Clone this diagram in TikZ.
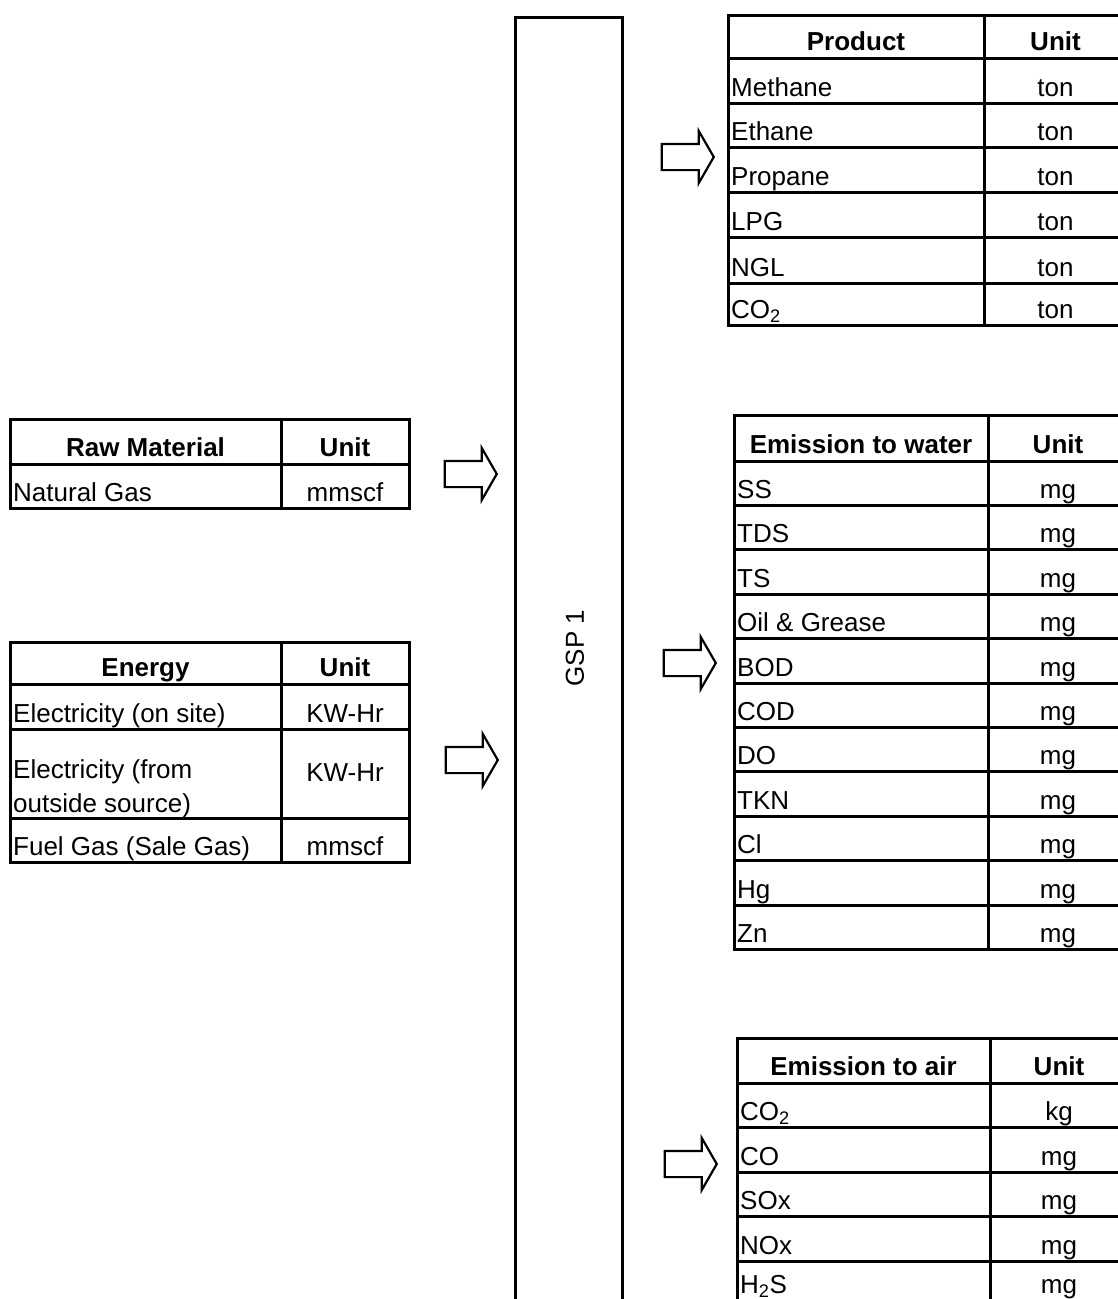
\documentclass[tikz,border=0pt]{standalone}
\usepackage{fontspec}
\setmainfont{Liberation Sans}
\usetikzlibrary{shapes.arrows}
\begin{document}
\begin{tikzpicture}[x=1pt,y=-1pt,
  grid/.style={line width=3pt, line cap=rect},
  tx/.style={font=\fontsize{26}{34}\selectfont, inner sep=0pt, anchor=base west},
  ux/.style={font=\fontsize{26}{34}\selectfont, inner sep=0pt, anchor=base},
  hx/.style={font=\fontsize{26}{34}\selectfont\bfseries, inner sep=0pt, anchor=base},
  flow/.style={single arrow, draw, line width=2.2pt, fill=white, inner xsep=0pt, inner ysep=12pt,
    minimum height=52pt, single arrow head extend=13pt,
    single arrow tip angle=120}]
\useasboundingbox[fill=white] (0,0) rectangle (1118,1299);

% ---------- GSP column ----------
\draw[grid] (515,1320) -- (515,17) -- (622,17) -- (622,1320);
\node[font=\fontsize{26}{34}\selectfont, rotate=90, inner sep=0pt] (gsp) at (575,648) {GSP 1};

% ---------- Raw material ----------
\draw[grid] (10,419) rectangle (409,508);
\draw[grid] (10,464) -- (409,464);
\draw[grid] (281,419) -- (281,508);
\node[hx] (rawh) at (145.5,456) {Raw Material};
\node[hx] (rawu) at (345,456) {Unit};
\node[tx] (raw1) at (13,501) {Natural Gas};
\node[ux] (raw1u) at (345,501) {mmscf};

% ---------- Energy ----------
\draw[grid] (10,642) rectangle (409,862);
\foreach \yy in {684,729,818} \draw[grid] (10,\yy) -- (409,\yy);
\draw[grid] (281,642) -- (281,862);
\node[hx] (eneh) at (145.5,676) {Energy};
\node[hx] (eneu) at (345,676) {Unit};
\node[tx] (ene1) at (13,722) {Electricity (on site)};
\node[ux] (ene1u) at (345,722) {KW-Hr};
\node[tx] (ene2a) at (13,778) {Electricity (from};
\node[tx] (ene2b) at (13,812) {outside source)};
\node[ux] (ene2u) at (345,781) {KW-Hr};
\node[tx] (ene3) at (13,855) {Fuel Gas (Sale Gas)};
\node[ux] (ene3u) at (345,855) {mmscf};

% ---------- Product ----------
\draw[grid] (728,15) rectangle (1130,325);
\foreach \yy in {58,103,147,192,237,283} \draw[grid] (728,\yy) -- (1130,\yy);
\draw[grid] (984,15) -- (984,325);
\node[hx] (prodh) at (856,50) {Product};
\node[hx] (produ) at (1055.5,50) {Unit};
\foreach \n/\t/\b in {1/Methane/103,2/Ethane/147,3/Propane/192,4/LPG/237,5/NGL/283,6/{CO\textsubscript{2}}/325}{
  \node[tx] (prod\n) at (731,\b-7) {\t};
  \node[ux] (produ\n) at (1055.5,\b-7) {ton};
}

% ---------- Emission to water ----------
\draw[grid] (734,415) rectangle (1130,949.4);
\draw[grid] (734,461) -- (1130,461);
\foreach \k in {1,...,10} \draw[grid] (734,461+44.4*\k) -- (1130,461+44.4*\k);
\draw[grid] (988,415) -- (988,949.4);
\node[hx] (wath) at (861,453) {Emission to water};
\node[hx] (watu) at (1058,453) {Unit};
\foreach \n/\t in {1/SS,2/TDS,3/TS,4/Oil \& Grease,5/BOD,6/COD,7/DO,8/TKN,9/Cl,10/Hg,11/Zn}{
  \node[tx] (wat\n) at (737,461+44.4*\n-7) {\t};
  \node[ux] (watu\n) at (1058,461+44.4*\n-7) {mg};
}

% ---------- Emission to air ----------
\draw[grid] (737,1320) -- (737,1038) -- (1130,1038);
\foreach \yy in {1083,1127.5,1172,1216.5,1261} \draw[grid] (737,\yy) -- (1130,\yy);
\draw[grid] (990,1038) -- (990,1320);
\node[hx] (airh) at (863.5,1075) {Emission to air};
\node[hx] (airu) at (1059,1075) {Unit};
\node[tx] (air1) at (740,1120.5) {CO\textsubscript{2}};
\node[ux] (air1u) at (1059,1120.5) {kg};
\foreach \n/\t/\b in {2/CO/1172,3/SOx/1216.5,4/NOx/1261,5/{H\textsubscript{2}S}/1300}{
  \node[tx] (air\n) at (740,\b-7) {\t};
  \node[ux] (airu\n) at (1059,\b-7) {mg};
}

% ---------- Flow arrows ----------
\node[flow] (arrRaw) at (467,474) {};
\node[flow] (arrEne) at (468,760) {};
\node[flow] (arrProd) at (684,157) {};
\node[flow] (arrWat) at (686,663) {};
\node[flow] (arrAir) at (687,1164) {};
\end{tikzpicture}
\end{document}
